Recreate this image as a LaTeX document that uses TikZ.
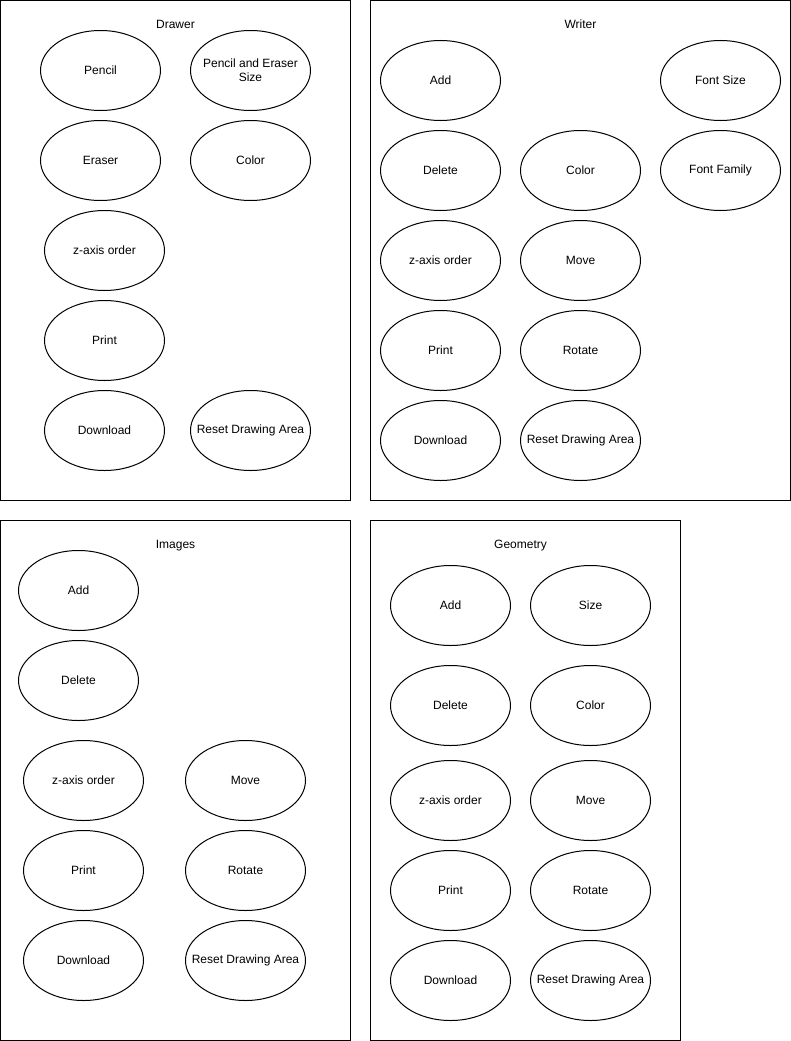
\documentclass[tikz,border=0pt]{standalone}
\usepackage{fontspec}
\setmainfont{Liberation Sans}
\usetikzlibrary{shapes.geometric}
\tikzset{
  feature/.style={draw, ellipse, minimum width=120pt, minimum height=80pt, inner xsep=-14pt, inner ysep=0pt, align=center, font=\fontsize{12}{14}\selectfont},
  paneltitle/.style={font=\fontsize{12}{14}\selectfont},
  panel/.style={draw}
}
\begin{document}
\begin{tikzpicture}[x=1pt, y=-1pt, line width=1pt]
    \useasboundingbox (0,0) rectangle (791,1041);

    % Draw panels
    \draw[panel] (0.5,0.5) rectangle (350.5,500.5);
    \draw[panel] (370.5,0.5) rectangle (790.5,500.5);
    \draw[panel] (0.5,520.5) rectangle (350.5,1040.5);
    \draw[panel] (370.5,520.5) rectangle (680.5,1040.5);

    % Panel titles
    \node[paneltitle] (drawer) at (175.5,24.5) {Drawer};
    \node[paneltitle] (writer) at (580.5,24.5) {Writer};
    \node[paneltitle] (images) at (175.5,545.5) {Images};
    \node[paneltitle] (geometry) at (520.5,545.5) {Geometry};

    % Drawer features
    \foreach \i/\x/\y/\t in {1/100/70/Pencil, 2/250/70/{Pencil and Eraser\\Size}, 3/100/160/Eraser, 4/250/160/Color, 5/104/250/z-axis order, 6/104/340/Print, 7/104/430/Download, 8/250/430/Reset Drawing Area} {
      \node[feature] (drawer-\i) at (\x+0.5,\y+0.5) {\t};
    }

    % Writer features
    \foreach \i/\x/\y/\t in {1/440/80/Add, 2/720/80/Font Size, 3/440/170/Delete, 4/580/170/Color, 5/720/170/Font Family, 6/440/260/z-axis order, 7/580/260/Move, 8/440/350/Print, 9/580/350/Rotate, 10/440/440/Download, 11/580/440/Reset Drawing Area} {
      \node[feature] (writer-\i) at (\x+0.5,\y+0.5) {\t};
    }

    % Images features
    \foreach \i/\x/\y/\t in {1/78/590/Add, 2/78/680/Delete, 3/83/780/z-axis order, 4/245/780/Move, 5/83/870/Print, 6/245/870/Rotate, 7/83/960/Download, 8/245/960/Reset Drawing Area} {
      \node[feature] (images-\i) at (\x+0.5,\y+0.5) {\t};
    }

    % Geometry features
    \foreach \i/\x/\y/\t in {1/450/605/Add, 2/590/605/Size, 3/450/705/Delete, 4/590/705/Color, 5/450/800/z-axis order, 6/590/800/Move, 7/450/890/Print, 8/590/890/Rotate, 9/450/980/Download, 10/590/980/Reset Drawing Area} {
      \node[feature] (geometry-\i) at (\x+0.5,\y+0.5) {\t};
    }

\end{tikzpicture}
\end{document}
